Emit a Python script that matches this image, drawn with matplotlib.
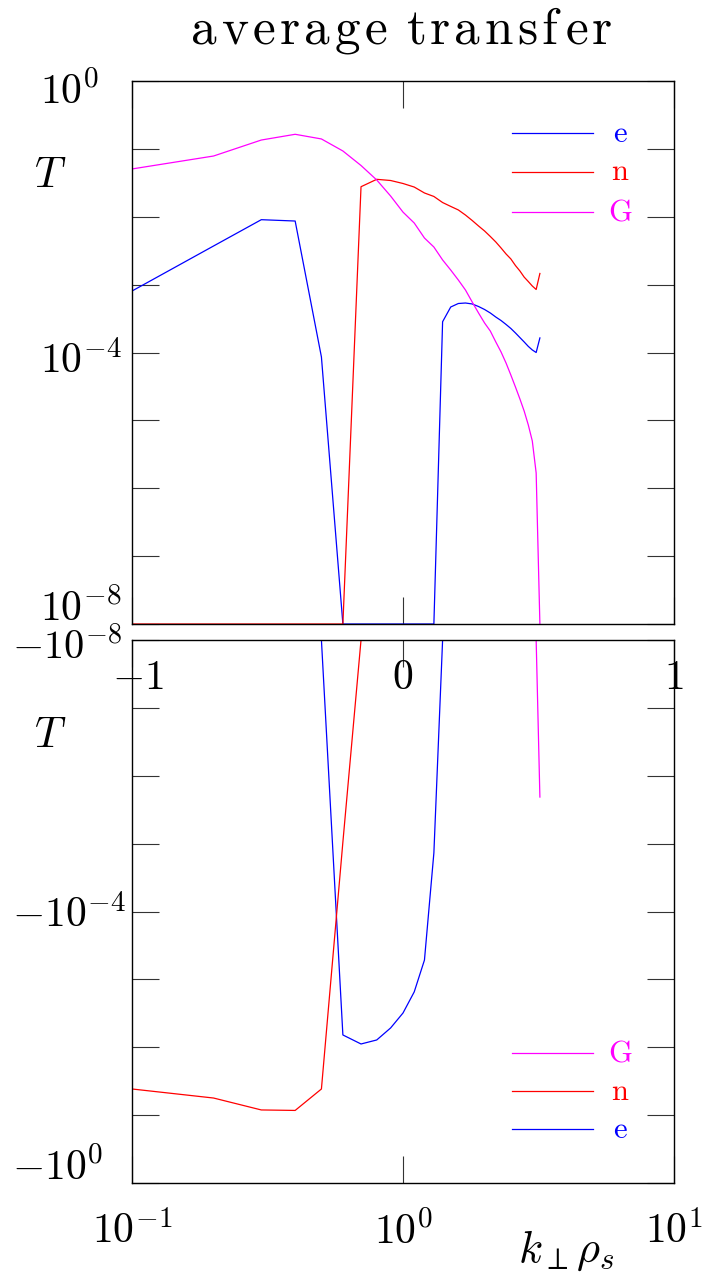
import numpy as np
import matplotlib
matplotlib.use("Agg")
import matplotlib.pyplot as plt
from matplotlib.lines import Line2D

plt.rcParams['mathtext.fontset'] = 'cm'
plt.rcParams['font.family'] = ['DejaVu Serif']

# perpendicular wavenumber k_perp rho_s
k = [0.1, 0.2, 0.3, 0.4, 0.5, 0.6, 0.7, 0.8, 0.9, 1.0,
     1.1, 1.2, 1.3, 1.4, 1.5, 1.6, 1.7, 1.8, 1.9, 2.0,
     2.1, 2.2, 2.3, 2.4, 2.5, 2.6, 2.7, 2.8, 2.9, 3.0,
     3.1, 3.2]

# signed average transfer for each field
T_e = [8.05e-4, 3.71e-3, 9.05e-3, 8.65e-3, 8.59e-5, -6.59e-3, -8.95e-3, -7.81e-3,
       -5.20e-3, -3.13e-3, -1.53e-3, -5.19e-4, -1.37e-5, 2.84e-4, 4.68e-4, 5.27e-4,
       5.36e-4, 5.19e-4, 4.76e-4, 4.30e-4, 3.82e-4, 3.33e-4, 2.96e-4, 2.59e-4,
       2.26e-4, 1.94e-4, 1.66e-4, 1.43e-4, 1.23e-4, 1.09e-4, 1.00e-4, 1.64e-4]

T_n = [-4.12e-2, -5.60e-2, -8.39e-2, -8.53e-2, -4.12e-2, -9.5e-6, 2.77e-2, 3.56e-2,
       3.42e-2, 3.09e-2, 2.74e-2, 2.24e-2, 1.99e-2, 1.62e-2, 1.42e-2, 1.26e-2,
       1.06e-2, 8.81e-3, 7.31e-3, 6.17e-3, 5.12e-3, 4.25e-3, 3.47e-3, 2.83e-3,
       2.39e-3, 1.91e-3, 1.59e-3, 1.29e-3, 1.11e-3, 9.54e-4, 8.48e-4, 1.46e-3]

T_G = [5.06e-2, 7.85e-2, 1.35e-1, 1.64e-1, 1.40e-1, 9.31e-2, 5.69e-2, 3.48e-2,
       2.02e-2, 1.17e-2, 8.09e-3, 4.86e-3, 3.58e-3, 2.31e-3, 1.64e-3, 1.17e-3,
       8.34e-4, 5.55e-4, 3.82e-4, 2.72e-4, 2.07e-4, 1.43e-4, 1.02e-4, 7.00e-5,
       4.66e-5, 3.10e-5, 2.07e-5, 1.37e-5, 8.55e-6, 4.97e-6, 1.68e-6, -2.06e-6]

series_names = ['e', 'n', 'G']
series_colors = ['#0000ff', '#ff0000', '#ff00ff']
series_values = [T_e, T_n, T_G]

pos_labels = [r'$10^{0}$', r'$10^{-4}$', r'$10^{-8}$']
neg_labels = [r'$-10^{-8}$', r'$-10^{-4}$', r'$-10^{0}$']
x_labels = [r'$10^{-1}$', r'$10^{0}$', r'$10^{1}$']
exp_labels = [r'$-1$', r'$0$', r'$1$']
title = 'average transfer'

FLOOR = 1e-8
W, H = 706, 1274
fig = plt.figure(figsize=(W / 100, H / 100), dpi=100)


def box(x0, y0, x1, y1):
    return [x0 / W, 1 - y1 / H, (x1 - x0) / W, (y1 - y0) / H]


def fx(px):
    return px / W


def fy(py):
    return 1 - py / H


ax_pos = fig.add_axes(box(132, 81, 674, 624))
ax_neg = fig.add_axes(box(132, 640, 674, 1183))

for ax in (ax_pos, ax_neg):
    ax.set_xscale('log')
    ax.set_yscale('log')
    ax.set_xlim(0.1, 10)
    ax.set_xticks([0.1, 1, 10])
    ax.set_yticks([10.0 ** p for p in range(-8, 1)])
    ax.minorticks_off()
    ax.tick_params(which='major', direction='in', length=19.5, width=0.8,
                   top=True, bottom=True, left=True, right=True,
                   labelleft=False, labelbottom=False, color='#333333')
    for s in ax.spines.values():
        s.set_linewidth(1.0)
        s.set_zorder(5)

ax_pos.set_ylim(FLOOR, 1)
ax_neg.set_ylim(1, FLOOR)

for vals, col in zip(series_values, series_colors):
    v = np.asarray(vals)
    ax_pos.plot(k, np.clip(v, FLOOR, None), color=col, lw=0.9, zorder=2)
    ax_neg.plot(k, np.clip(-v, FLOOR, None), color=col, lw=0.9, zorder=2)


def legend(rows, names, colors):
    for py, name, col in zip(rows, names, colors):
        fig.add_artist(Line2D([fx(512), fx(593)], [fy(py), fy(py)], color=col, lw=0.9))
        fig.text(fx(620), fy(py), r'$\mathrm{%s}$' % name, color=col, fontsize=22,
                 ha='center', va='center')


legend([133, 172, 212], series_names, series_colors)
legend([1129, 1091, 1053], series_names, series_colors)

LS = 30
# y tick labels (the mantissa "10" sits in a fixed column)
for py, lab in zip([104, 374, 621], pos_labels):
    fig.text(fx(40), fy(py), lab, fontsize=LS, ha='left', va='baseline')
for py, lab, size in zip([659, 928, 1180], neg_labels, [29, LS, LS]):
    fig.text(fx(12), fy(py), lab, fontsize=size, ha='left', va='baseline')

# exponent labels along the top of the lower panel
for px, lab in zip([138, 403, 674], exp_labels):
    fig.text(fx(px), fy(689), lab, fontsize=LS, ha='center', va='baseline')

# x tick labels
for px, lab in zip([132, 403, 674], x_labels):
    fig.text(fx(px), fy(1244), lab, fontsize=LS, ha='center', va='baseline')

fig.text(fx(566), fy(1262), r'$k_\perp\rho_s$', fontsize=32, ha='center', va='baseline')

# axis labels
fig.text(fx(50), fy(175), r'$T$', fontsize=31, ha='center', va='center')
fig.text(fx(50), fy(735), r'$T$', fontsize=31, ha='center', va='center')

# letter-spaced title
renderer = fig.canvas.get_renderer()
glyphs = []
for ch in title:
    if ch == ' ':
        glyphs.append(None)
        continue
    glyphs.append(fig.text(0, fy(44), r'$\mathrm{%s}$' % ch, fontsize=37,
                           ha='left', va='baseline'))
widths = [g.get_window_extent(renderer).width if g is not None else 12.0 for g in glyphs]
left, right = 190.0, 612.0
gap = (right - left - sum(widths)) / (len(widths) - 1)
x = left
for g, w in zip(glyphs, widths):
    if g is not None:
        g.set_x(fx(x))
    x += w + gap

fig.savefig('out.png', dpi=100)
